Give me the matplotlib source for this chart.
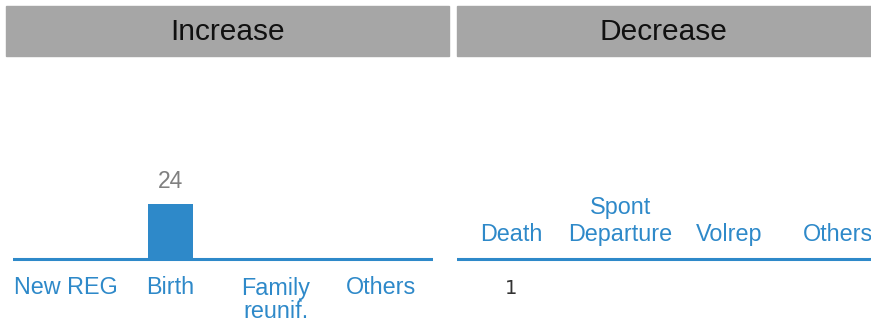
import matplotlib
matplotlib.use("Agg")
import matplotlib.pyplot as plt
from matplotlib.patches import Rectangle

# Data
inc_categories = ["New REG", "Birth", "Family\nreunif.", "Others"]
inc_values = [0, 24, 0, 0]
dec_categories = ["Death", "Spont\nDeparture", "Volrep", "Others"]
dec_values = [1, 0, 0, 0]
panel_titles = ["Increase", "Decrease"]

W, H = 871, 321
DPI = 100
fig = plt.figure(figsize=(W / DPI, H / DPI), dpi=DPI)
plt.rcParams['font.family'] = ['Liberation Sans', 'DejaVu Sans']

BLUE = "#2e89c9"
GRAY_BAND = "#a6a6a6"

def px2pt(p):
    return p * 72.0 / DPI

# header bands
def band(x0, x1, y0, y1, text):
    fig.patches.append(Rectangle((x0 / W, 1 - y1 / H), (x1 - x0) / W, (y1 - y0) / H,
                                 transform=fig.transFigure, color=GRAY_BAND, zorder=0))
    fig.text((x0 + x1) / 2 / W, 1 - ((y0 + y1) / 2 + 1.5) / H, text, ha="center", va="center",
             fontsize=21.5, color="#111111")

band(6, 448.5, 5.5, 56, panel_titles[0])
band(456.5, 871, 6, 56, panel_titles[1])

# scale: 24 units -> 55 px
ppu = 55.0 / 24.0
base_px = 258.5
top_px, bot_px = 60, 318
ymax = (base_px - top_px) / ppu
ymin = -(bot_px - base_px) / ppu

def make_axes(x0, step, n):
    ax = fig.add_axes([x0 / W, 1 - bot_px / H, step * n / W, (bot_px - top_px) / H])
    ax.set_xlim(-0.5, n - 0.5)
    ax.set_ylim(ymin, ymax)
    ax.axis("off")
    ax.axhline(0, color=BLUE, lw=2.2, zorder=1)
    return ax

# Increase panel
ax1 = make_axes(13, 105, 4)
ax1.bar(range(4), inc_values, width=0.42, color=BLUE, zorder=2)
for i, (c, v) in enumerate(zip(inc_categories, inc_values)):
    ax1.annotate(c, (i, 0), xytext=(0, px2pt(-18)), textcoords="offset points",
                 ha="center", va="top", fontsize=16.8, color=BLUE, linespacing=1.0,
                 annotation_clip=False)
    if v:
        ax1.annotate(str(v), (i, v), xytext=(0, px2pt(15)), textcoords="offset points",
                     ha="center", va="baseline", fontsize=16.5, color="#808080")

# Decrease panel
ax2 = make_axes(456.5, 109, 4)
ax2.bar(range(4), [-v for v in dec_values], width=0.40, color=BLUE, zorder=2)
for i, (c, v) in enumerate(zip(dec_categories, dec_values)):
    ax2.annotate(c, (i, 0), xytext=(0, px2pt(17.5)), textcoords="offset points",
                 ha="center", va="baseline", fontsize=16.8, color=BLUE, linespacing=1.2)
    if v:
        ax2.annotate(str(v), (i, -v), xytext=(0, px2pt(-33)), textcoords="offset points",
                     ha="center", va="baseline", fontsize=14, color="#333333",
                     family="DejaVu Sans")

fig.savefig("out.png", dpi=DPI)
